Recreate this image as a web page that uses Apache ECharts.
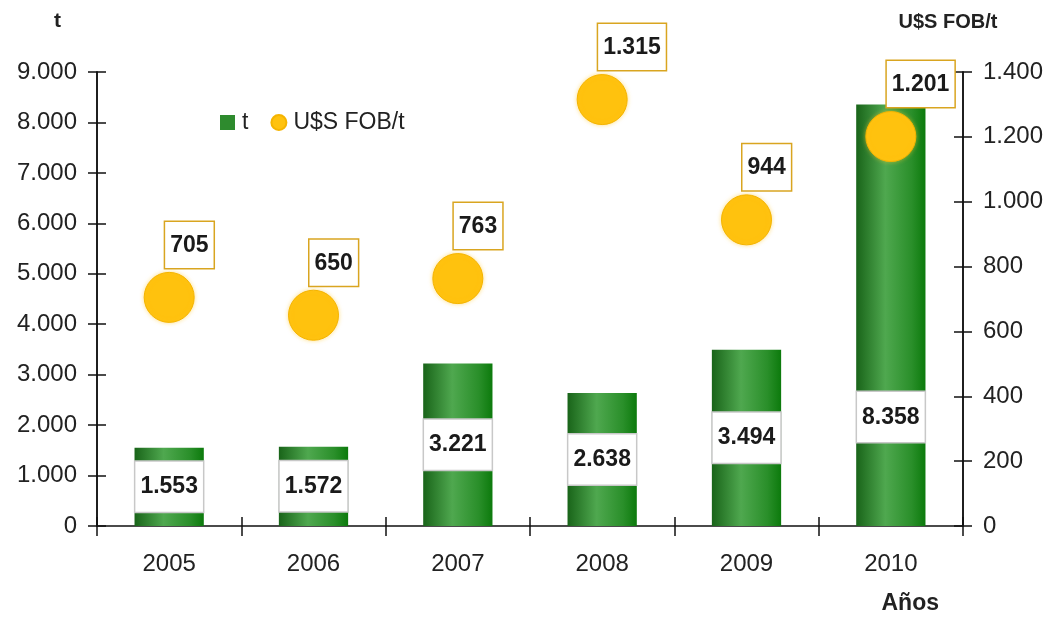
<!DOCTYPE html>
<html>
<head>
<meta charset="utf-8">
<script src="https://cdn.jsdelivr.net/npm/echarts@6/dist/echarts.min.js"></script>
<style>
  html, body { margin: 0; padding: 0; background: #fff; }
  #chart { width: 1061px; height: 617px; }
</style>
</head>
<body>
<div id="chart"></div>
<script>
// Exported tonnage and FOB price per tonne, by year
const years = ['2005', '2006', '2007', '2008', '2009', '2010'];
const tonnes = [1553, 1572, 3221, 2638, 3494, 8358];
const pricePerTonne = [705, 650, 763, 1315, 944, 1201];

const leftMax = 9000, leftStep = 1000;
const rightMax = 1400, rightStep = 200;

const FONT = '"Liberation Sans", Arial, sans-serif';
const TEXT = '#222';

// Spanish-style thousands separator: 1553 -> "1.553"
function fmt(v) {
  return String(Math.round(v)).replace(/\B(?=(\d{3})+(?!\d))/g, '.');
}

const barFill = {
  type: 'linear', x: 0, y: 0, x2: 1, y2: 0,
  colorStops: [
    { offset: 0, color: '#196419' },
    { offset: 0.42, color: '#4fa84f' },
    { offset: 0.8, color: '#2a8f2a' },
    { offset: 1, color: '#0c7a0c' }
  ]
};

const axisLine = { show: true, lineStyle: { color: '#111', width: 1.5 } };
const tickLine = { color: '#111', width: 1.5 };

function yAxisPair(pos, max, step, name, nameCfg) {
  const base = {
    type: 'value', position: pos, min: 0, max: max, interval: step,
    splitLine: { show: false }, axisLine: axisLine
  };
  return [
    Object.assign({}, base, {
      name: name,
      nameLocation: 'end',
      nameGap: nameCfg.gap,
      nameTextStyle: nameCfg.style,
      axisTick: { show: true, length: 9, lineStyle: tickLine },
      axisLabel: { show: true, formatter: fmt, color: TEXT, fontSize: 24, fontFamily: FONT, margin: 20 }
    }),
    // companion axis draws the inner half of each crossing tick
    Object.assign({}, base, {
      axisTick: { show: true, inside: true, length: 9, lineStyle: tickLine },
      axisLabel: { show: false }
    })
  ];
}

const yAxes = [].concat(
  yAxisPair('left', leftMax, leftStep, 't', {
    gap: 40,
    style: { color: TEXT, fontSize: 21, fontWeight: 'bold', fontFamily: FONT, align: 'right', padding: [0, 36, 0, 0] }
  }),
  yAxisPair('right', rightMax, rightStep, 'U$S FOB/t', {
    gap: 40,
    style: { color: TEXT, fontSize: 20, fontWeight: 'bold', fontFamily: FONT, align: 'center', padding: [0, 0, 0, -30] }
  })
);

const barData = tonnes.map(function (v, i) {
  const item = { value: v };
  if (i === tonnes.length - 1) {
    // tall bar: keep the value box low, clear of the price marker
    item.label = { position: 'insideBottom', distance: 84 };
  }
  return item;
});

const option = {
  backgroundColor: '#fff',
  animation: false,
  textStyle: { fontFamily: FONT },
  grid: { left: 97, right: 98, top: 72, bottom: 91, containLabel: false },
  legend: {
    left: 215, top: 106,
    itemWidth: 15, itemHeight: 15, itemGap: 22,
    textStyle: { color: TEXT, fontSize: 23, fontFamily: FONT, padding: [0, 0, 0, 2] },
    data: [
      { name: 't', icon: 'rect', itemStyle: { color: '#2e8b2e' } },
      { name: 'U$S FOB/t', icon: 'circle' }
    ]
  },
  xAxis: [
    {
      type: 'category', data: years, position: 'bottom',
      name: 'Años', nameLocation: 'end', nameGap: 0,
      nameTextStyle: { color: TEXT, fontSize: 23, fontWeight: 'bold', fontFamily: FONT,
        align: 'right', verticalAlign: 'top', padding: [66, 24, 0, 0] },
      axisLine: axisLine,
      axisTick: { show: true, length: 10, lineStyle: tickLine },
      axisLabel: { color: TEXT, fontSize: 24, fontFamily: FONT, margin: 26 }
    },
    {
      type: 'category', data: years, position: 'bottom',
      axisLine: { show: false },
      axisTick: { show: true, inside: true, length: 9, lineStyle: tickLine },
      axisLabel: { show: false }
    }
  ],
  yAxis: yAxes,
  series: [
    {
      name: 't', type: 'bar', xAxisIndex: 0, yAxisIndex: 0,
      barWidth: '48%',
      data: barData,
      itemStyle: { color: barFill },
      label: {
        show: true, position: 'inside',
        formatter: function (p) { return fmt(p.value); },
        color: '#1a1a1a', fontSize: 23, fontWeight: 'bold', fontFamily: FONT,
        backgroundColor: '#fff', borderColor: '#c8c8c8', borderWidth: 1.5,
        padding: [14, 5, 13, 5]
      },
      z: 2
    },
    {
      name: 'U$S FOB/t', type: 'scatter', xAxisIndex: 0, yAxisIndex: 2,
      data: pricePerTonne,
      symbol: 'circle', symbolSize: 50,
      itemStyle: { color: '#ffc20e', borderColor: '#f5b400', borderWidth: 1, opacity: 1,
        shadowColor: 'rgba(255, 200, 40, 0.5)', shadowBlur: 4 },
      label: {
        show: true, position: 'top', distance: 4, offset: [-4, 0], align: 'left',
        formatter: function (p) { return fmt(p.value); },
        color: '#1a1a1a', fontSize: 23, fontWeight: 'bold', fontFamily: FONT,
        backgroundColor: '#fff', borderColor: '#d9a520', borderWidth: 1.5,
        padding: [12, 5, 11, 5]
      },
      z: 3
    }
  ],
  color: ['#2e8b2e', '#ffc20e']
};

const chart = echarts.init(document.getElementById('chart'), null, { renderer: 'canvas' });
chart.setOption(option);
</script>
</body>
</html>
